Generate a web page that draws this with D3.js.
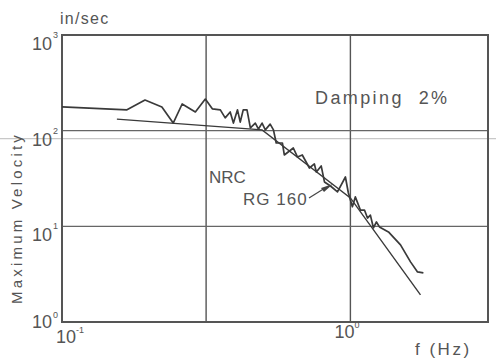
<!DOCTYPE html>
<html>
<head>
<meta charset="utf-8">
<script src="https://cdn.jsdelivr.net/npm/d3@7"></script>
<style>
  body { margin: 0; background: #fff; }
  svg { display: block; }
  text { font-family: "Liberation Sans", Arial, sans-serif; fill: #555; }
</style>
</head>
<body>
<div id="chart"></div>
<script>
// response spectrum (jagged curve), f in Hz, v in in/sec
var specFreq = [0.100, 0.168, 0.194, 0.222, 0.243, 0.261, 0.290, 0.314, 0.332, 0.354,
    0.368, 0.383, 0.393, 0.406, 0.415, 0.425, 0.438, 0.450, 0.468, 0.480,
    0.494, 0.507, 0.527, 0.541, 0.553, 0.581, 0.590, 0.634, 0.655, 0.681,
    0.721, 0.750, 0.762, 0.792, 0.813, 0.853, 0.902, 0.961, 0.984, 1.016,
    1.040, 1.083, 1.119, 1.146, 1.173, 1.202, 1.231, 1.261, 1.355, 1.492,
    1.616, 1.709, 1.791];
var specVel = [177, 165, 209, 177, 120, 190, 157, 214, 169, 165,
    136, 157, 120, 165, 123, 165, 165, 107, 120, 104,
    120, 102, 117, 102, 74.3, 74.3, 55.7, 65.9, 53.1, 55.7,
    40.7, 44.9, 37.0, 42.8, 29.1, 26.4, 22.9, 32.8, 22.3, 16.0,
    20.3, 14.8, 14.8, 12.2, 13.1, 9.62, 11.1, 9.86, 8.74, 6.39,
    4.25, 3.34, 3.26];

// NRC RG 1.60 design spectrum
var nrcFreq = [0.155, 0.494, 1.0, 1.75];
var nrcVel = [132, 102, 19.8, 1.92];

var xTicks = [0.1, 1];
var xExp = ["-1", "0"];
var yTicks = [1, 10, 100, 1000];
var yExp = ["0", "1", "2", "3"];
var xGrid = [0.316, 1];
var yGrid = [10, 100];

var width = 496,
    height = 362;

var x = d3.scaleLog().domain([0.1, 3.0]).range([62, 488]);
var y = d3.scaleLog().domain([1, 1000]).range([322, 35]);

var svg = d3.select("#chart").append("svg")
    .attr("width", width)
    .attr("height", height);

// faint scan line under the 10^2 grid line
svg.append("line")
    .attr("x1", 0).attr("x2", width)
    .attr("y1", y(100) + 8).attr("y2", y(100) + 8)
    .style("stroke", "#c8c8c8")
    .style("stroke-width", 1.2);

// grid
svg.selectAll(".vgrid")
    .data(xGrid)
    .enter().append("line")
    .attr("x1", function(d) { return x(d); })
    .attr("x2", function(d) { return x(d); })
    .attr("y1", y(1000)).attr("y2", y(1))
    .style("stroke", "#555")
    .style("stroke-width", 1.4);

svg.selectAll(".hgrid")
    .data(yGrid)
    .enter().append("line")
    .attr("x1", x(0.1)).attr("x2", x(3.0))
    .attr("y1", function(d) { return y(d); })
    .attr("y2", function(d) { return y(d); })
    .style("stroke", "#666")
    .style("stroke-width", 1.2);

// frame
svg.append("rect")
    .attr("x", x(0.1)).attr("y", y(1000))
    .attr("width", x(3.0) - x(0.1))
    .attr("height", y(1) - y(1000))
    .style("fill", "none")
    .style("stroke", "#555")
    .style("stroke-width", 2);

var line = d3.line()
    .x(function(d) { return x(d[0]); })
    .y(function(d) { return y(d[1]); });

svg.append("path")
    .datum(d3.zip(nrcFreq, nrcVel))
    .attr("d", line)
    .style("fill", "none")
    .style("stroke", "#3a3a3a")
    .style("stroke-width", 1.4);

svg.append("path")
    .datum(d3.zip(specFreq, specVel))
    .attr("d", line)
    .style("fill", "none")
    .style("stroke", "#3a3a3a")
    .style("stroke-width", 1.7)
    .style("stroke-linejoin", "round");

// y tick labels
yTicks.forEach(function(d, i) {
    var ty = y(d), base = i === 0 ? ty + 6 : ty + 15;
    svg.append("text")
        .attr("x", 52).attr("y", base)
        .attr("text-anchor", "end")
        .style("font-size", "18px")
        .text("10");
    svg.append("text")
        .attr("x", 53).attr("y", i === 0 ? ty - 4 : ty + 3)
        .style("font-size", "9px")
        .text(yExp[i]);
});

// x tick labels
xTicks.forEach(function(d, i) {
    var tx = x(d), left = i === 0 ? tx - 6 : tx - 16;
    svg.append("text")
        .attr("x", left).attr("y", i === 0 ? 343 : 338)
        .style("font-size", "18px")
        .text("10");
    svg.append("text")
        .attr("x", left + 20).attr("y", i === 0 ? 333 : 328)
        .style("font-size", "9px")
        .text(xExp[i]);
});

// axis titles
svg.append("text")
    .attr("x", 60).attr("y", 24)
    .style("font-size", "16px")
    .style("letter-spacing", "1.3px")
    .text("in/sec");

svg.append("text")
    .attr("transform", "translate(22,218) rotate(-90)")
    .attr("text-anchor", "middle")
    .style("font-size", "15px")
    .style("letter-spacing", "3.2px")
    .text("Maximum Velocity");

svg.append("text")
    .attr("x", 415).attr("y", 355)
    .style("font-size", "17px")
    .style("letter-spacing", "2.5px")
    .text("f (Hz)");

// annotations
svg.append("text")
    .attr("x", 315).attr("y", 104)
    .style("font-size", "18px")
    .style("letter-spacing", "2.4px")
    .style("white-space", "pre")
    .text("Damping  2%");

svg.append("text")
    .attr("x", 209).attr("y", 183)
    .style("font-size", "17px")
    .text("NRC");

svg.append("text")
    .attr("x", 243).attr("y", 205)
    .style("font-size", "17px")
    .style("letter-spacing", "1px")
    .text("RG 160");

// leader arrow to the NRC line
svg.append("line")
    .attr("x1", 309).attr("y1", 198)
    .attr("x2", 325).attr("y2", 188)
    .style("stroke", "#444")
    .style("stroke-width", 1.2);
svg.append("path")
    .attr("d", "M333,184 L321,188 L324,192 Z")
    .style("fill", "#444");
</script>
</body>
</html>
